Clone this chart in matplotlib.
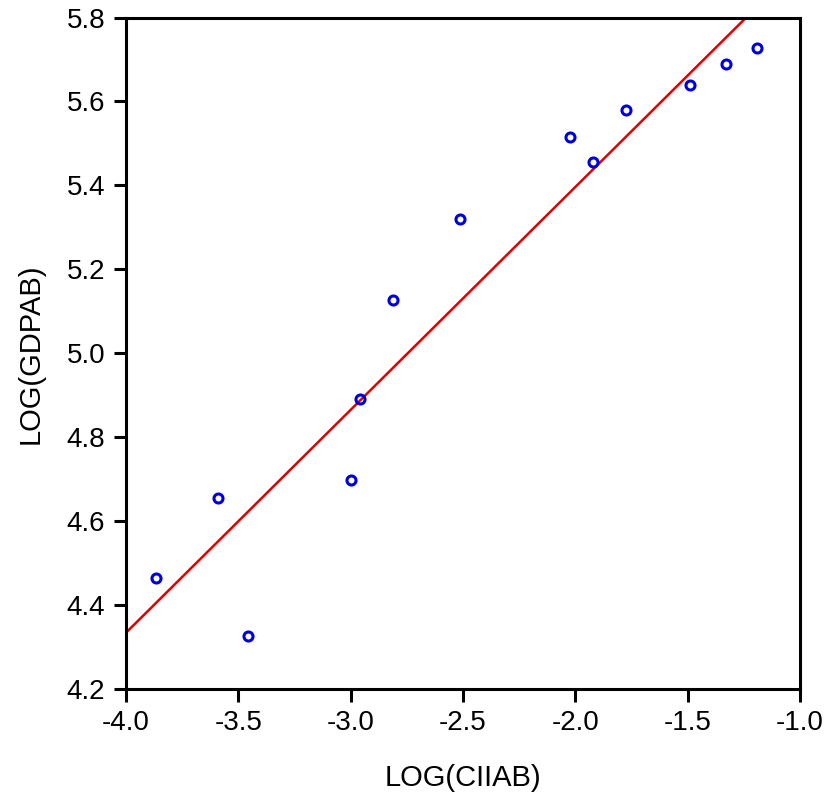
import numpy as np
import matplotlib.pyplot as plt

plt.rcParams['font.family'] = ['Liberation Sans', 'DejaVu Sans']

log_ciiab = [-3.866, -3.590, -3.456, -2.997, -2.957, -2.810, -2.511,
             -2.025, -1.922, -1.775, -1.490, -1.329, -1.191]
log_gdpab = [4.465, 4.656, 4.327, 4.697, 4.890, 5.127, 5.320,
             5.516, 5.456, 5.580, 5.640, 5.690, 5.728]

# fitted line as shown in the chart
fit_intercept = 6.458
fit_slope = 0.531

x = np.array(log_ciiab)
y = np.array(log_gdpab)

fig = plt.figure(figsize=(8.32, 8.08), dpi=100)
ax = fig.add_axes([0.1514, 0.1473, 0.81, 0.831])

xx = np.array([-4.0, -1.0])
ax.plot(xx, fit_intercept + fit_slope * xx, color='#e00000', lw=1.8)
ax.plot(x, y, 'o', mfc='none', mec='#0000dd', ms=6.5, mew=2.2)

ax.set_xlim(-4.0, -1.0)
ax.set_ylim(4.2, 5.8)
ax.set_xticks(np.arange(-4.0, -0.9, 0.5))
ax.set_yticks(np.arange(4.2, 5.81, 0.2))
ax.xaxis.set_major_formatter(plt.FormatStrFormatter('%.1f'))
ax.yaxis.set_major_formatter(plt.FormatStrFormatter('%.1f'))
ax.tick_params(labelsize=20, length=9, width=2.2, direction='out', pad=6)
for s in ax.spines.values():
    s.set_linewidth(2.2)

ax.set_xlabel('LOG(CIIAB)', fontsize=21, labelpad=20)
ax.set_ylabel('LOG(GDPAB)', fontsize=21, labelpad=16)

fig.savefig('out.png', dpi=100)
